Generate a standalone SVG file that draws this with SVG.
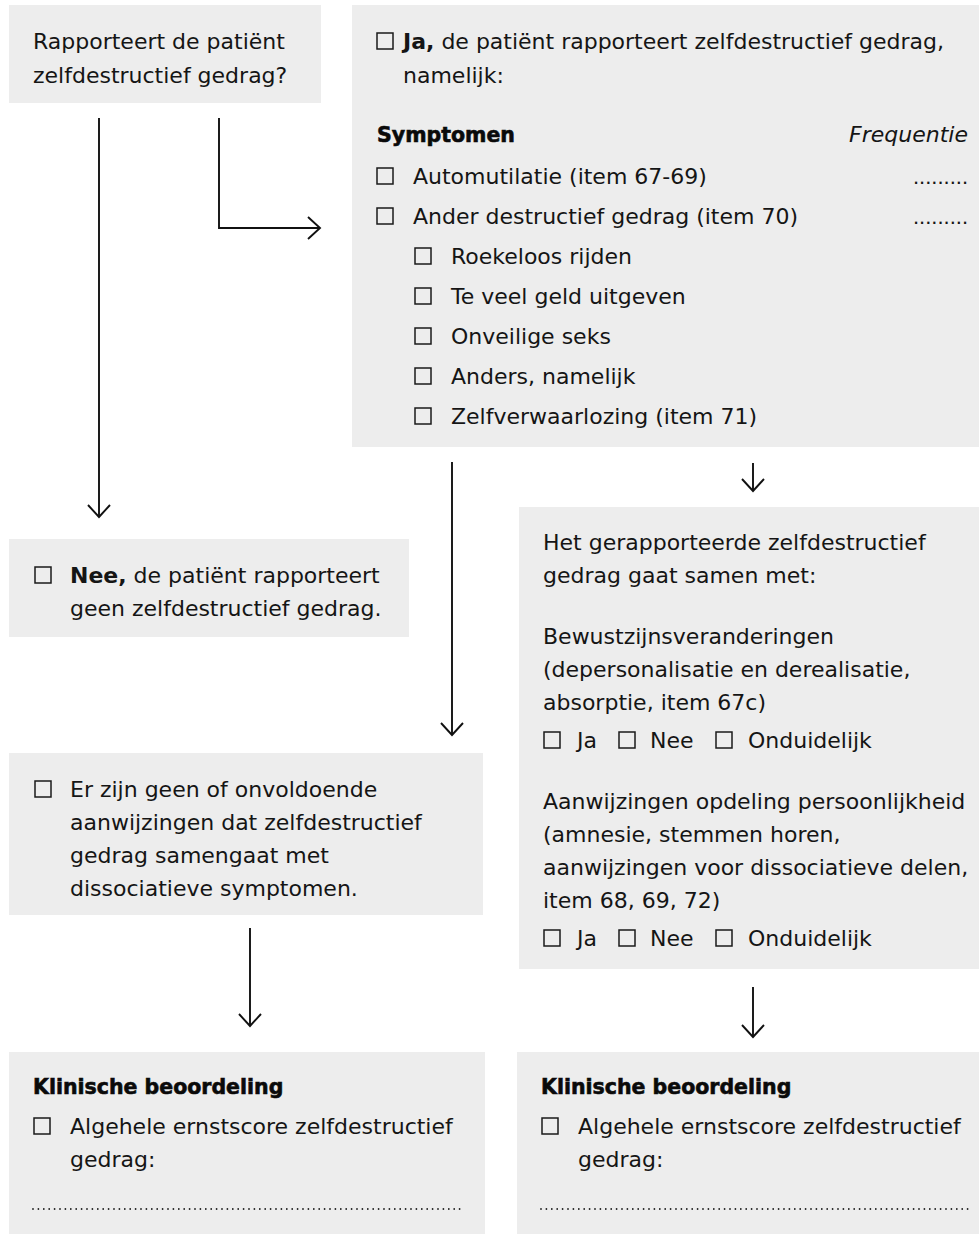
<svg xmlns="http://www.w3.org/2000/svg" width="979" height="1234" viewBox="0 0 979 1234">
<style>
.bg{fill:#ffffff}
.box{fill:#ededed}
.t{font-family:"DejaVu Sans","Liberation Sans",sans-serif;font-size:22px;fill:#151515}
.b{font-weight:bold}
.h{font-family:"DejaVu Sans","Liberation Sans",sans-serif;font-size:20.5px;font-weight:bold;fill:#0a0a0a;stroke:#0a0a0a;stroke-width:0.6}
.i{font-style:italic}
.dots{font-family:"Liberation Sans",sans-serif;font-size:22px;fill:#151515}
.cb{fill:none;stroke:#1a1a1a;stroke-width:1.5}
.conn{fill:none;stroke:#111111;stroke-width:1.9}
.dl{fill:none;stroke:#222222;stroke-width:1.8;stroke-linecap:round;stroke-dasharray:0 5.4}
</style>
<defs>
<marker id="arr" markerUnits="userSpaceOnUse" viewBox="-16 -16 32 32" markerWidth="32" markerHeight="32" refX="0" refY="0" orient="auto" overflow="visible">
<path d="M -12 -11 L 0 0 L -12 11" fill="none" stroke="#111111" stroke-width="1.9" stroke-linejoin="miter"/>
</marker>
</defs>
<rect class="bg" x="0" y="0" width="979" height="1234"/>

<g id="connectors">
<line class="conn" x1="99" y1="118" x2="99" y2="517" marker-end="url(#arr)"/>
<path class="conn" d="M 219 118 V 228 H 320" marker-end="url(#arr)"/>
<line class="conn" x1="452" y1="462" x2="452" y2="735" marker-end="url(#arr)"/>
<line class="conn" x1="753" y1="463" x2="753" y2="491" marker-end="url(#arr)"/>
<line class="conn" x1="250" y1="928" x2="250" y2="1026" marker-end="url(#arr)"/>
<line class="conn" x1="753" y1="987" x2="753" y2="1037" marker-end="url(#arr)"/>
</g>

<g id="question">
<rect class="box" x="9" y="5" width="312" height="98"/>
<text class="t" x="33" y="49">Rapporteert de patiënt</text>
<text class="t" x="33" y="83">zelfdestructief gedrag?</text>
</g>

<g id="ja">
<rect class="box" x="352" y="5" width="627" height="442"/>
<rect class="cb" x="377" y="33" width="16" height="16"/>
<text class="t" x="403" y="49"><tspan class="b">Ja,</tspan> de patiënt rapporteert zelfdestructief gedrag,</text>
<text class="t" x="403" y="83">namelijk:</text>
<text class="h" x="377" y="142">Symptomen</text>
<text class="t i" x="968" y="142" text-anchor="end">Frequentie</text>
<rect class="cb" x="377" y="168" width="16" height="16"/>
<text class="t" x="413" y="184">Automutilatie (item 67-69)</text>
<text class="dots" x="968" y="184" text-anchor="end">.........</text>
<rect class="cb" x="377" y="208" width="16" height="16"/>
<text class="t" x="413" y="224">Ander destructief gedrag (item 70)</text>
<text class="dots" x="968" y="224" text-anchor="end">.........</text>
<rect class="cb" x="415" y="248" width="16" height="16"/>
<text class="t" x="451" y="264">Roekeloos rijden</text>
<rect class="cb" x="415" y="288" width="16" height="16"/>
<text class="t" x="451" y="304">Te veel geld uitgeven</text>
<rect class="cb" x="415" y="328" width="16" height="16"/>
<text class="t" x="451" y="344">Onveilige seks</text>
<rect class="cb" x="415" y="368" width="16" height="16"/>
<text class="t" x="451" y="384">Anders, namelijk</text>
<rect class="cb" x="415" y="408" width="16" height="16"/>
<text class="t" x="451" y="424">Zelfverwaarlozing (item 71)</text>
</g>

<g id="nee">
<rect class="box" x="9" y="539" width="400" height="98"/>
<rect class="cb" x="35" y="567" width="16" height="16"/>
<text class="t" x="70" y="583"><tspan class="b">Nee,</tspan> de patiënt rapporteert</text>
<text class="t" x="70" y="616">geen zelfdestructief gedrag.</text>
</g>

<g id="samen">
<rect class="box" x="519" y="507" width="460" height="462"/>
<text class="t" x="543" y="550">Het gerapporteerde zelfdestructief</text>
<text class="t" x="543" y="583">gedrag gaat samen met:</text>
<text class="t" x="543" y="644">Bewustzijnsveranderingen</text>
<text class="t" x="543" y="677">(depersonalisatie en derealisatie,</text>
<text class="t" x="543" y="710">absorptie, item 67c)</text>
<rect class="cb" x="544" y="732" width="16" height="16"/>
<text class="t" x="577" y="748">Ja</text>
<rect class="cb" x="619" y="732" width="16" height="16"/>
<text class="t" x="650" y="748">Nee</text>
<rect class="cb" x="716" y="732" width="16" height="16"/>
<text class="t" x="748" y="748">Onduidelijk</text>
<text class="t" x="543" y="809">Aanwijzingen opdeling persoonlijkheid</text>
<text class="t" x="543" y="842">(amnesie, stemmen horen,</text>
<text class="t" x="543" y="875">aanwijzingen voor dissociatieve delen,</text>
<text class="t" x="543" y="908">item 68, 69, 72)</text>
<rect class="cb" x="544" y="930" width="16" height="16"/>
<text class="t" x="577" y="946">Ja</text>
<rect class="cb" x="619" y="930" width="16" height="16"/>
<text class="t" x="650" y="946">Nee</text>
<rect class="cb" x="716" y="930" width="16" height="16"/>
<text class="t" x="748" y="946">Onduidelijk</text>
</g>

<g id="geen">
<rect class="box" x="9" y="753" width="474" height="162"/>
<rect class="cb" x="35" y="781" width="16" height="16"/>
<text class="t" x="70" y="797">Er zijn geen of onvoldoende</text>
<text class="t" x="70" y="830">aanwijzingen dat zelfdestructief</text>
<text class="t" x="70" y="863">gedrag samengaat met</text>
<text class="t" x="70" y="896">dissociatieve symptomen.</text>
</g>

<g id="klinisch-links">
<rect class="box" x="9" y="1052" width="476" height="182"/>
<text class="h" x="33" y="1094">Klinische beoordeling</text>
<rect class="cb" x="34" y="1118" width="16" height="16"/>
<text class="t" x="70" y="1134">Algehele ernstscore zelfdestructief</text>
<text class="t" x="70" y="1167">gedrag:</text>
<line class="dl" x1="33" y1="1209" x2="463" y2="1209"/>
</g>

<g id="klinisch-rechts">
<rect class="box" x="517" y="1052" width="462" height="182"/>
<text class="h" x="541" y="1094">Klinische beoordeling</text>
<rect class="cb" x="542" y="1118" width="16" height="16"/>
<text class="t" x="578" y="1134">Algehele ernstscore zelfdestructief</text>
<text class="t" x="578" y="1167">gedrag:</text>
<line class="dl" x1="541" y1="1209" x2="971" y2="1209"/>
</g>
</svg>
